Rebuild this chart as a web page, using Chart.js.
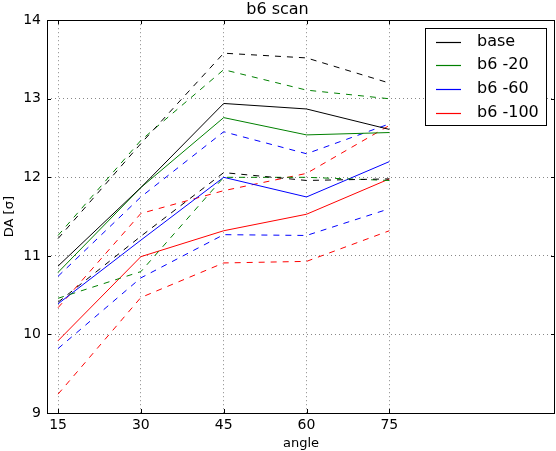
<!DOCTYPE html>
<html>
<head>
<meta charset="utf-8">
<script src="https://cdn.jsdelivr.net/npm/chart.js@4/dist/chart.umd.min.js"></script>
<style>
  html, body { margin: 0; padding: 0; background: #fff; }
  #wrap { width: 556px; height: 451px; }
</style>
</head>
<body>
<div id="wrap"><canvas id="scan"></canvas></div>
<script>
// angles on the x axis
const angles = [15, 30, 45, 60, 75];
const yTicks = [9, 10, 11, 12, 13, 14];

const seriesNames = ["base", "b6 -20", "b6 -60", "b6 -100"];
const seriesColors = ["#000000", "#008000", "#0000ff", "#ff0000"];

// solid = mean, dashed = upper / lower
const baseMid  = [10.87, 11.87, 12.94, 12.87, 12.61];
const baseHigh = [11.22, 12.43, 13.58, 13.52, 13.20];
const baseLow  = [10.41, 11.25, 12.06, 11.96, 11.98];

const b20Mid  = [10.79, 11.87, 12.76, 12.54, 12.57];
const b20High = [11.26, 12.47, 13.37, 13.11, 13.00];
const b20Low  = [10.46, 10.80, 12.00, 12.00, 11.96];

const b60Mid  = [10.39, 11.20, 12.00, 11.75, 12.20];
const b60High = [10.74, 11.75, 12.58, 12.30, 12.68];
const b60Low  = [9.82, 10.72, 11.27, 11.26, 11.60];

const b100Mid  = [9.92, 10.99, 11.32, 11.53, 11.98];
const b100High = [10.34, 11.54, 11.83, 12.05, 12.66];
const b100Low  = [9.24, 10.47, 10.91, 10.93, 11.32];

const groups = [
  [baseMid, baseHigh, baseLow],
  [b20Mid, b20High, b20Low],
  [b60Mid, b60High, b60Low],
  [b100Mid, b100High, b100Low],
];

function toPoints(vals) {
  return angles.map((a, i) => ({ x: a, y: vals[i] }));
}

const datasets = [];
groups.forEach((g, k) => {
  // solid line
  datasets.push({
    label: seriesNames[k],
    data: toPoints(g[0]),
    borderColor: seriesColors[k],
    borderWidth: 1,
    pointRadius: 0,
    fill: false,
  });
  // dashed lines
  for (let j = 1; j < 3; j++) {
    datasets.push({
      label: "",
      data: toPoints(g[j]),
      borderColor: seriesColors[k],
      borderWidth: 1,
      borderDash: [6, 6],
      pointRadius: 0,
      fill: false,
    });
  }
});

// frame, inward ticks and the boxed legend
const framePlugin = {
  id: "frame",
  afterDraw(chart) {
    const ctx = chart.ctx;
    const a = chart.chartArea;
    const xs = chart.scales.x, ys = chart.scales.y;
    ctx.save();
    ctx.setLineDash([]);
    ctx.strokeStyle = "#000";
    ctx.lineWidth = 1;
    ctx.strokeRect(Math.round(a.left) + 0.5, Math.round(a.top) + 0.5,
      Math.round(a.right - a.left) - 1, Math.round(a.bottom - a.top));
    ctx.beginPath();
    angles.forEach(v => {
      const px = Math.round(xs.getPixelForValue(v)) + 0.5;
      ctx.moveTo(px, a.bottom); ctx.lineTo(px, a.bottom - 4);
      ctx.moveTo(px, a.top); ctx.lineTo(px, a.top + 4);
    });
    yTicks.forEach(v => {
      const py = Math.round(ys.getPixelForValue(v)) + 0.5;
      ctx.moveTo(a.left, py); ctx.lineTo(a.left + 4, py);
      ctx.moveTo(a.right, py); ctx.lineTo(a.right - 4, py);
    });
    ctx.stroke();

    // legend
    ctx.fillStyle = "#fff";
    ctx.fillRect(425.5, 28.5, 121, 97);
    ctx.strokeRect(425.5, 28.5, 121, 97);
    ctx.font = "16px 'DejaVu Sans'";
    ctx.textBaseline = "middle";
    for (let i = 0; i < seriesNames.length; i++) {
      const y = 41.5 + i * 23.8;
      const ly = Math.round(y) + 0.5;
      ctx.beginPath();
      ctx.strokeStyle = seriesColors[i];
      ctx.lineWidth = 1.2;
      ctx.moveTo(436, ly);
      ctx.lineTo(461, ly);
      ctx.stroke();
      ctx.fillStyle = "#000";
      ctx.fillText(seriesNames[i], 477, y);
    }
    ctx.restore();
  },
};

new Chart("scan", {
  type: "line",
  data: { datasets: datasets },
  plugins: [framePlugin],
  options: {
    responsive: true,
    maintainAspectRatio: false,
    animation: false,
    layout: { padding: { right: 1, top: 0, left: 0, bottom: 0 } },
    plugins: {
      legend: { display: false },
      tooltip: { enabled: false },
      title: {
        display: true,
        text: "b6 scan",
        color: "#000",
        font: { family: "DejaVu Sans", size: 16, weight: "normal" },
        padding: { top: 0, bottom: 1 },
      },
    },
    scales: {
      x: {
        type: "linear",
        min: 13,
        max: 105,
        afterBuildTicks: (s) => { s.ticks = angles.map(v => ({ value: v })); },
        afterFit: (s) => { s.height = 38; },
        ticks: {
          color: "#000",
          padding: 4,
          font: { family: "DejaVu Sans", size: 14 },
        },
        grid: {
          drawTicks: false,
          color: "#888",
          lineWidth: 1,
        },
        border: { display: false, dash: [1, 3] },
        title: {
          display: true,
          text: "angle",
          color: "#000",
          font: { family: "DejaVu Sans", size: 13 },
          padding: { top: 0, bottom: 0 },
        },
      },
      y: {
        min: 9,
        max: 14,
        afterBuildTicks: (s) => { s.ticks = yTicks.map(v => ({ value: v })); },
        afterFit: (s) => { s.width = 47; },
        ticks: {
          color: "#000",
          padding: 6,
          font: { family: "DejaVu Sans", size: 14 },
        },
        grid: {
          drawTicks: false,
          color: "#888",
          lineWidth: 1,
        },
        border: { display: false, dash: [1, 3] },
        title: {
          display: true,
          text: "DA [σ]",
          color: "#000",
          font: { family: "DejaVu Sans", size: 13 },
          padding: { top: 2, bottom: 0 },
        },
      },
    },
  },
});
</script>
</body>
</html>
